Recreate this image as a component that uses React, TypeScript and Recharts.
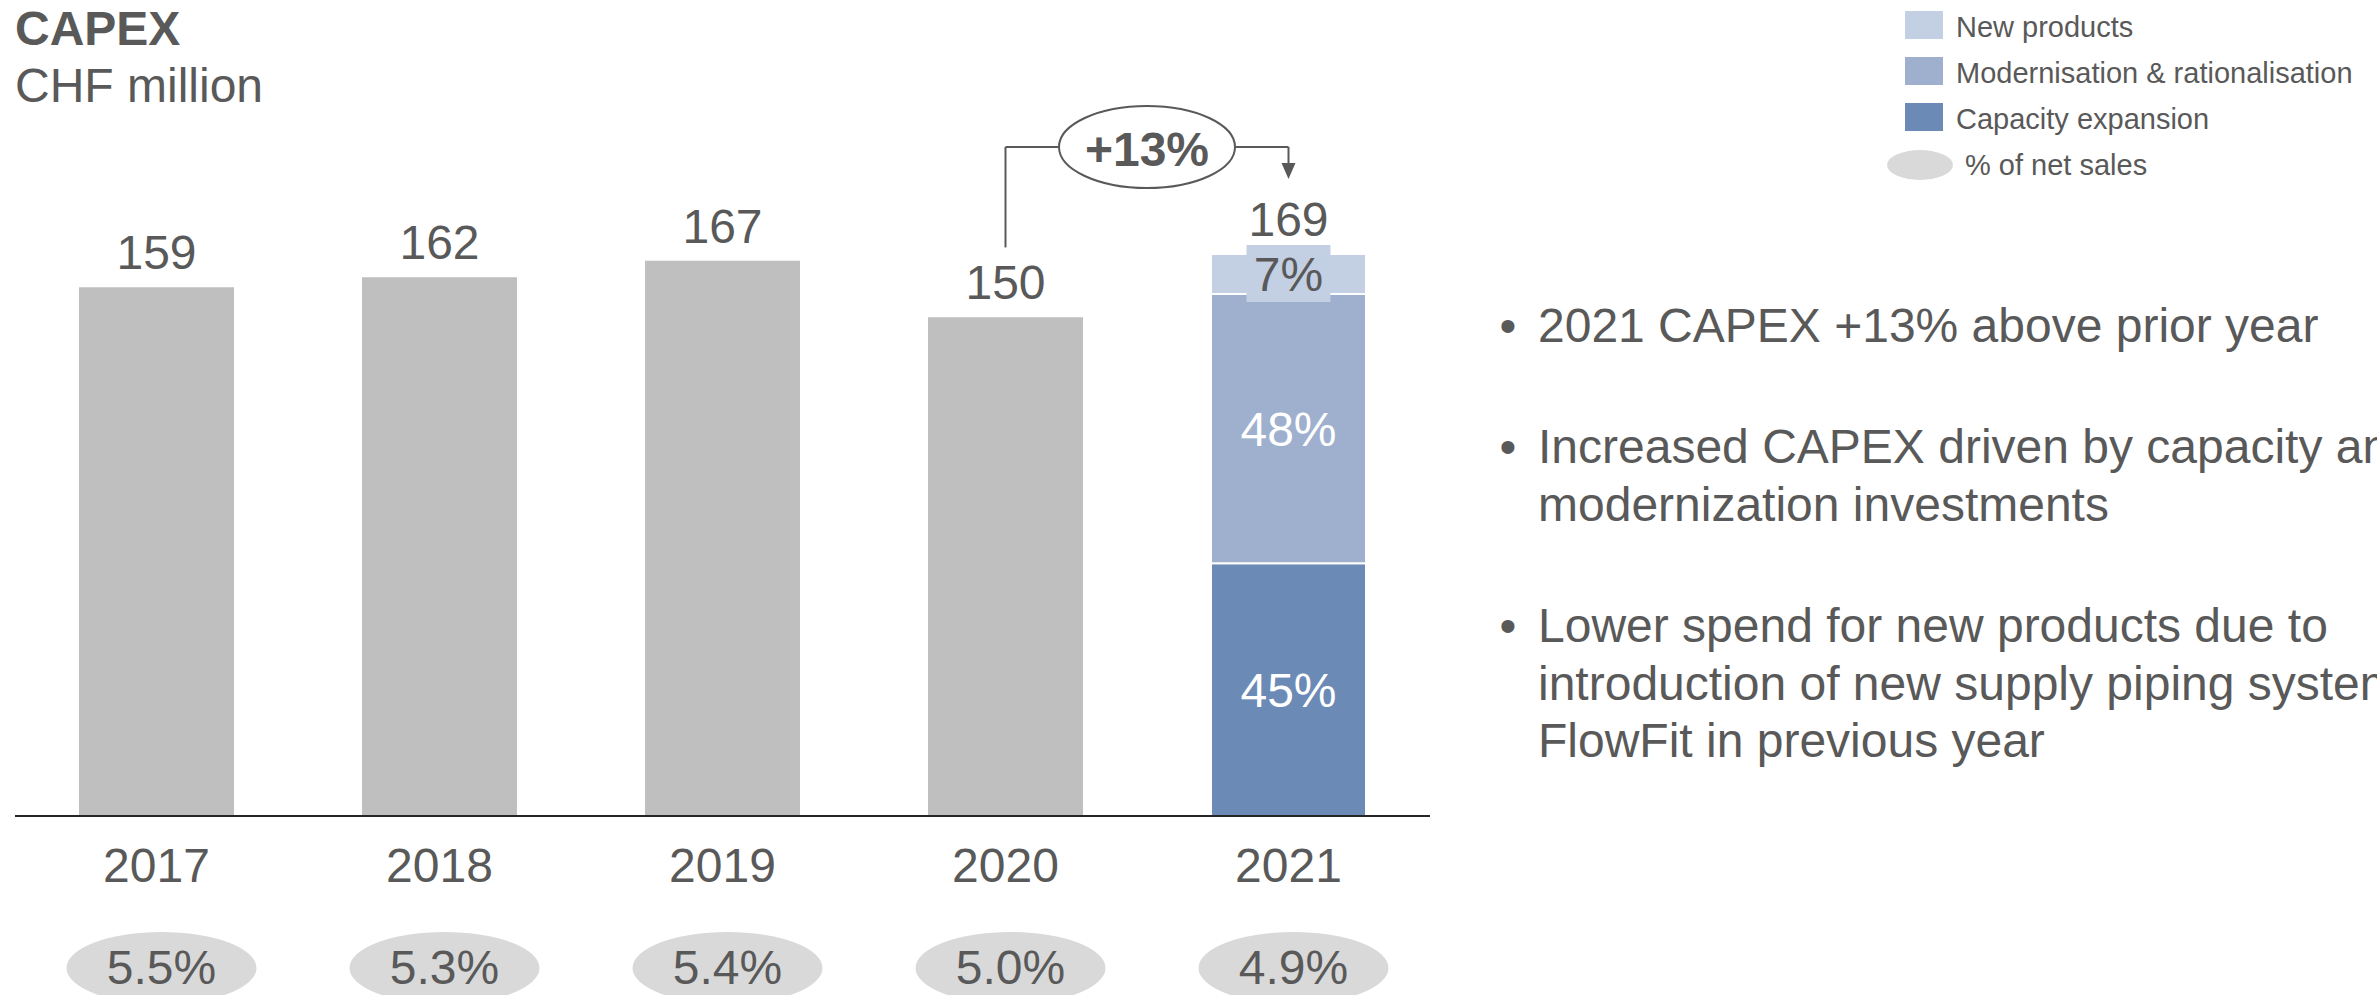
import { BarChart, Bar, XAxis, YAxis, LabelList, ReferenceLine } from 'recharts';

const years = ['2017', '2018', '2019', '2020', '2021'];
const totals = [159, 162, 167, 150, 169];
const netSalesShare = ['5.5%', '5.3%', '5.4%', '5.0%', '4.9%'];

// 2021 breakdown (CHF million) and its shares
const capacity = [null, null, null, null, 76];
const modernisation = [null, null, null, null, 81];
const newProducts = [null, null, null, null, 12];
const capacityShare = '45%';
const modernisationShare = '48%';
const newProductsShare = '7%';

const growthLabel = '+13%';

const bullets = [
  ['2021 CAPEX +13% above prior year'],
  ['Increased CAPEX driven by capacity and', 'modernization investments'],
  ['Lower spend for new products due to', 'introduction of new supply piping system', 'FlowFit in previous year'],
];

const legendItems = [
  { label: 'New products', color: '#c3cfe2' },
  { label: 'Modernisation & rationalisation', color: '#9eb0cd' },
  { label: 'Capacity expansion', color: '#6c8ab6' },
];

const TEXT = '#595959';
const FONT = '"Liberation Sans", Arial, sans-serif';

const rows = years.map((year, i) => ({
  year,
  total: totals[i],
  gray: newProducts[i] == null ? totals[i] : null,
  capacity: capacity[i],
  modernisation: modernisation[i],
  newProducts: newProducts[i],
}));

const renderTotal = (props: any) => {
  const { x, y, width, height, value } = props;
  if (value == null || !(Number(height) > 0)) return null;
  return (
    <text x={Number(x) + Number(width) / 2} y={Number(y) - 18} textAnchor="middle" fontSize={48} fill={TEXT} fontFamily={FONT}>
      {value}
    </text>
  );
};

const centerLabel = (text: string, color: string) => (props: any) => {
  const { x, y, width, height, value } = props;
  if (value == null || !(Number(height) > 0)) return null;
  return (
    <text
      x={Number(x) + Number(width) / 2}
      y={Number(y) + Number(height) / 2 + 17}
      textAnchor="middle"
      fontSize={48}
      fill={color}
      fontFamily={FONT}
    >
      {text}
    </text>
  );
};

const renderNewProducts = (props: any) => {
  const { x, y, width, height, value } = props;
  if (value == null || !(Number(height) > 0)) return null;
  const cx = Number(x) + Number(width) / 2;
  const cy = Number(y) + Number(height) / 2;
  return (
    <g>
      <rect x={cx - 42} y={cy - 29} width={84} height={57} fill="#c3cfe2" />
      <text x={cx} y={cy + 17} textAnchor="middle" fontSize={48} fill={TEXT} fontFamily={FONT}>
        {newProductsShare}
      </text>
    </g>
  );
};

const YearTick = (props: any) => {
  const { x, y, payload } = props;
  const i = years.indexOf(payload.value);
  return (
    <g fontFamily={FONT}>
      <text x={x} y={y + 66} textAnchor="middle" fontSize={48} fill={TEXT}>
        {payload.value}
      </text>
      <ellipse cx={x + 5} cy={y + 152} rx={95} ry={36} fill="#d9d9d9" />
      <text x={x + 5} y={y + 168} textAnchor="middle" fontSize={48} fill={TEXT}>
        {netSalesShare[i]}
      </text>
    </g>
  );
};

const GrowthBubble = (p: any) => {
  const mx = (p.x1 + p.x2) / 2;
  return (
    <g>
      <line x1={p.x1} y1={p.y1} x2={p.x2} y2={p.y2} stroke={TEXT} strokeWidth={2} />
      <ellipse cx={mx} cy={p.y1} rx={88} ry={41} fill="#fff" stroke={TEXT} strokeWidth={2} />
      <text x={mx} y={p.y1 + 19} textAnchor="middle" fontSize={48} fontWeight="bold" fill={TEXT} fontFamily={FONT}>
        {growthLabel}
      </text>
    </g>
  );
};

const ArrowDown = (p: any) => (
  <g>
    <line x1={p.x1} y1={p.y1} x2={p.x2} y2={p.y2 - 15} stroke={TEXT} strokeWidth={2} />
    <polygon points={`${p.x2 - 7},${p.y2 - 16} ${p.x2 + 7},${p.y2 - 16} ${p.x2},${p.y2}`} fill={TEXT} />
  </g>
);

export default function App() {
  return (
    <div style={{ position: 'absolute', left: 0, top: 0, width: 2377, height: 995, overflow: 'hidden', background: '#fff' }}>
      <BarChart width={2377} height={995} data={rows} margin={{ top: 151, right: 947, bottom: 0, left: 15 }} barSize={155}>
        <XAxis
          dataKey="year"
          height={179}
          interval={0}
          tickLine={false}
          tickSize={0}
          tickMargin={0}
          axisLine={{ stroke: '#262626', strokeWidth: 2 }}
          tick={(props: any) => <YearTick {...props} />}
        />
        <YAxis hide domain={[0, 200]} />
        <Bar dataKey="gray" stackId="a" fill="#bfbfbf" isAnimationActive={false}>
          <LabelList dataKey="gray" content={renderTotal} />
        </Bar>
        <Bar dataKey="capacity" stackId="a" fill="#6c8ab6" stroke="#fff" strokeWidth={2} isAnimationActive={false}>
          <LabelList dataKey="capacity" content={centerLabel(capacityShare, '#fff')} />
        </Bar>
        <Bar dataKey="modernisation" stackId="a" fill="#9eb0cd" stroke="#fff" strokeWidth={2} isAnimationActive={false}>
          <LabelList dataKey="modernisation" content={centerLabel(modernisationShare, '#fff')} />
        </Bar>
        <Bar dataKey="newProducts" stackId="a" fill="#c3cfe2" stroke="#fff" strokeWidth={2} isAnimationActive={false}>
          <LabelList dataKey="newProducts" content={renderNewProducts} />
          <LabelList dataKey="total" content={renderTotal} />
        </Bar>
        <ReferenceLine
          ifOverflow="visible"
          segment={[{ x: '2020', y: 171 }, { x: '2020', y: 201.2 }]}
          stroke={TEXT}
          strokeWidth={2}
        />
        <ReferenceLine
          ifOverflow="visible"
          segment={[{ x: '2020', y: 201.2 }, { x: '2021', y: 201.2 }]}
          shape={GrowthBubble}
        />
        <ReferenceLine
          ifOverflow="visible"
          segment={[{ x: '2021', y: 201.2 }, { x: '2021', y: 191.6 }]}
          shape={ArrowDown}
        />
      </BarChart>

      <svg width={2377} height={995} style={{ position: 'absolute', left: 0, top: 0, pointerEvents: 'none' }} fontFamily={FONT}>
        <text x={15} y={45} fontSize={48} fontWeight="bold" fill={TEXT}>CAPEX</text>
        <text x={15} y={102} fontSize={48} fill={TEXT}>CHF million</text>

        {legendItems.map((item, i) => (
          <g key={item.label}>
            <rect x={1905} y={11 + i * 46} width={38} height={28} fill={item.color} />
            <text x={1956} y={37 + i * 46} fontSize={29} fill={TEXT}>{item.label}</text>
          </g>
        ))}
        <ellipse cx={1920} cy={165} rx={33} ry={15} fill="#d9d9d9" />
        <text x={1965} y={175} fontSize={29} fill={TEXT}>% of net sales</text>

        {bullets.map((lines, b) => {
          const tops = [342, 463, 642];
          return (
            <g key={b}>
              <text x={1508} y={tops[b]} textAnchor="middle" fontSize={48} fill={TEXT}>•</text>
              {lines.map((line, l) => (
                <text key={l} x={1538} y={tops[b] + l * 57.5} fontSize={48} fill={TEXT}>{line}</text>
              ))}
            </g>
          );
        })}
      </svg>
    </div>
  );
}
